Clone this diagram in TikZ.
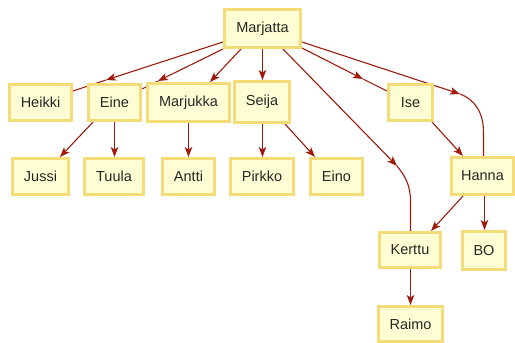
\documentclass[tikz,border=0pt]{standalone}
\usepackage{fontspec}
\setmainfont{Liberation Sans}
\usetikzlibrary{arrows.meta,backgrounds}
\definecolor{boxfill}{HTML}{FFFDD3}
\definecolor{boxline}{HTML}{F4DD78}
\definecolor{edgecol}{HTML}{9E1A0C}
\tikzset{
  person/.style={draw=boxline, fill=boxfill, line width=3pt, inner sep=0pt,
    font=\fontsize{14.5}{17}\selectfont, text=black!85},
  edge/.style={draw=edgecol, line width=1.1pt},
  arr/.style={edge, -{Stealth[length=10pt,width=7.5pt,inset=2.5pt]}}
}
\begin{document}
\begin{tikzpicture}[x=1pt,y=-1pt]
\useasboundingbox (0,0) rectangle (515,343);
% nodes: center, min width = outer width - 3
\node[person, minimum width=76pt, minimum height=38pt] (Marjatta) at (262.5,28.5) {Marjatta};
\node[person, minimum width=62pt, minimum height=36pt] (Heikki) at (40.5,102.5) {Heikki};
\node[person, minimum width=52pt, minimum height=36pt] (Eine) at (114.5,102.5) {Eine};
\node[person, minimum width=82pt, minimum height=38pt] (Marjukka) at (188.5,102.5) {Marjukka};
\node[person, minimum width=55pt, minimum height=41pt] (Seija) at (262,102) {Seija};
\node[person, minimum width=44pt, minimum height=36pt] (Ise) at (410.5,102.5) {Ise};
\node[person, minimum width=56pt, minimum height=36pt] (Jussi) at (40.5,176.5) {Jussi};
\node[person, minimum width=59pt, minimum height=36pt] (Tuula) at (114,176.5) {Tuula};
\node[person, minimum width=52pt, minimum height=36pt] (Antti) at (188.5,176.5) {Antti};
\node[person, minimum width=63pt, minimum height=36pt] (Pirkko) at (262,176.5) {Pirkko};
\node[person, minimum width=52pt, minimum height=36pt] (Eino) at (336.5,176.5) {Eino};
\node[person, minimum width=62pt, minimum height=37pt] (Hanna) at (482.5,176) {Hanna};
\node[person, minimum width=61pt, minimum height=35pt] (Kerttu) at (410,250) {Kerttu};
\node[person, minimum width=43pt, minimum height=38pt] (BO) at (484,250.5) {BO};
\node[person, minimum width=64pt, minimum height=35pt] (Raimo) at (410.5,324) {Raimo};
% edge points
\coordinate (m1) at (223,42);
\coordinate (h1) at (106,80);
\coordinate (hE) at (73,91);
\coordinate (m2) at (223,49);
\coordinate (e1) at (158,81);
\coordinate (eE) at (142,89);
\coordinate (m3) at (241,49);
\coordinate (mk) at (210,82);
\coordinate (m4) at (262.5,49);
\coordinate (m5) at (283,49);
\coordinate (k1) at (397,166);
\coordinate (m6) at (302,48);
\coordinate (i1) at (363,79);
\coordinate (iE) at (387,91);
\coordinate (m7) at (302,42);
\coordinate (n1) at (460,94);
\begin{scope}[on background layer]
\draw[arr] (m1) -- (h1);
\draw[edge] (h1) -- (hE);
\draw[arr] (m2) -- (e1);
\draw[edge] (e1) -- (eE);
\draw[arr] (m3) -- (mk);
\draw[arr] (m4) -- ([xshift=0.5pt]Seija.north);
\draw[arr] (m5) -- (k1);
\draw[edge] (k1) .. controls (406,177) and (410.5,186) .. (410.5,202) -- ([xshift=0.5pt]Kerttu.north);
\draw[arr] (m6) -- (i1);
\draw[edge] (i1) -- (iE);
\draw[arr] (m7) -- (n1);
\draw[edge] (n1) .. controls (474,99) and (483.5,112) .. (483.5,132) -- ([xshift=1pt]Hanna.north);
\draw[arr] (Ise.south east) ++(-2,0) -- ([xshift=-19.5pt]Hanna.north);
\draw[arr] ([xshift=-21.5pt]Eine.south) -- ([xshift=19.5pt]Jussi.north);
\draw[arr] (Eine.south) -- ([xshift=0.5pt]Tuula.north);
\draw[arr] (Marjukka.south) -- (Antti.north);
\draw[arr] ([xshift=0.5pt]Seija.south) -- ([xshift=0.5pt]Pirkko.north);
\draw[arr] ([xshift=23pt]Seija.south) -- ([xshift=-21.5pt]Eino.north);
\draw[arr] ([xshift=-19.5pt]Hanna.south) -- ([xshift=21pt]Kerttu.north);
\draw[arr] ([xshift=2pt]Hanna.south) -- ([xshift=0.5pt]BO.north);
\draw[arr] ([xshift=0.5pt]Kerttu.south) -- (Raimo.north);
\end{scope}
\end{tikzpicture}
\end{document}
